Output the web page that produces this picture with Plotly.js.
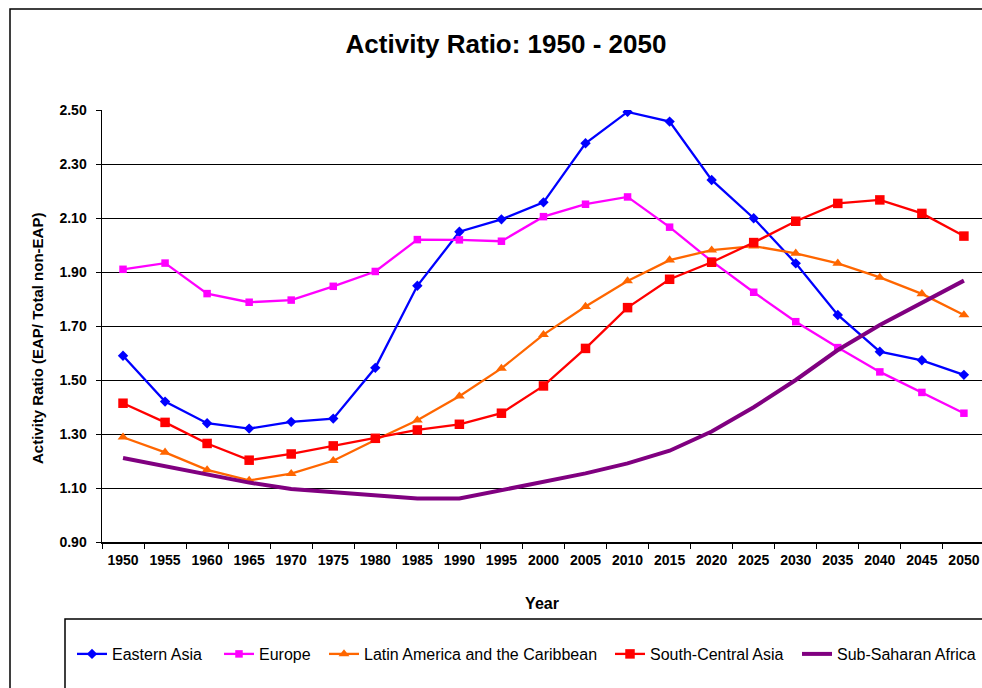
<!DOCTYPE html>
<html>
<head>
<meta charset="utf-8">
<script src="https://cdn.plot.ly/plotly-3.0.1.min.js"></script>
<style>
  html, body { margin: 0; padding: 0; background: #fff; overflow: hidden; }
  #chart { width: 982px; height: 688px; }
</style>
</head>
<body>
<div id="chart"></div>
<script>
const years = ["1950","1955","1960","1965","1970","1975","1980","1985","1990","1995","2000","2005","2010","2015","2020","2025","2030","2035","2040","2045","2050"];

const easternAsia = [1.59,1.42,1.34,1.32,1.345,1.357,1.545,1.849,2.049,2.095,2.158,2.377,2.493,2.457,2.241,2.099,1.932,1.741,1.605,1.573,1.519];
const europe = [1.910,1.933,1.820,1.788,1.796,1.847,1.902,2.020,2.019,2.014,2.105,2.151,2.178,2.066,1.940,1.825,1.716,1.620,1.530,1.454,1.377];
const latinAmerica = [1.288,1.232,1.167,1.128,1.153,1.201,1.278,1.351,1.440,1.543,1.668,1.772,1.867,1.944,1.981,1.996,1.969,1.932,1.880,1.819,1.741];
const southCentralAsia = [1.414,1.343,1.265,1.203,1.226,1.256,1.284,1.315,1.336,1.377,1.478,1.617,1.768,1.873,1.936,2.009,2.088,2.154,2.167,2.117,2.033];
const subSaharanAfrica = [1.211,1.181,1.152,1.120,1.096,1.084,1.072,1.061,1.061,1.093,1.122,1.154,1.191,1.238,1.309,1.399,1.500,1.611,1.704,1.788,1.868];

const seriesNames = ["Eastern Asia","Europe","Latin America and the Caribbean","South-Central Asia","Sub-Saharan Africa"];

const W = 982, H = 688, L = 102, R = 0, T = 110, B = 146;
const PW = W - L - R, PH = H - T - B;
const px = x => (x - L) / PW;
const py = y => (H - B - y) / PH;

const font = "Liberation Sans, Arial, sans-serif";

const traces = [
  {x: years, y: easternAsia, name: seriesNames[0], legend: "legend",
   mode: "lines+markers", line: {color: "#0000FF", width: 2.3},
   marker: {symbol: "diamond", size: 8, color: "#0000FF"}},
  {x: years, y: europe, name: seriesNames[1], legend: "legend2",
   mode: "lines+markers", line: {color: "#FF00FF", width: 2.3},
   marker: {symbol: "square", size: 7.5, color: "#FF00FF"}},
  {x: years, y: latinAmerica, name: seriesNames[2], legend: "legend3",
   mode: "lines+markers", line: {color: "#FF6600", width: 2.3},
   marker: {symbol: "triangle-up", size: 9.5, color: "#FF6600"}},
  {x: years, y: southCentralAsia, name: seriesNames[3], legend: "legend4",
   mode: "lines+markers", line: {color: "#FF0000", width: 2.3},
   marker: {symbol: "square", size: 9.5, color: "#FF0000"}},
  {x: years, y: subSaharanAfrica, name: seriesNames[4], legend: "legend5",
   mode: "lines", line: {color: "#800080", width: 4}}
];

const textStarts = [112, 259, 364, 650, 838];
const legY = py(654);
function leg(i) {
  return {x: px(textStarts[i] - 40), y: legY, xanchor: "left", yanchor: "middle",
          orientation: "h", bgcolor: "rgba(0,0,0,0)", borderwidth: 0,
          font: {family: font, size: 16, color: "#000"}, itemwidth: 30};
}
const leg5 = Object.assign(leg(4), {x: px(981), xanchor: "right"});

const layout = {
  width: W, height: H,
  margin: {l: L, r: R, t: T, b: B, pad: 0, autoexpand: false},
  paper_bgcolor: "#fff", plot_bgcolor: "#fff",
  showlegend: true,
  title: {text: "<b>Activity Ratio: 1950 - 2050</b>", x: 506 / W, xref: "container",
          y: 1 - 44 / H, yref: "container", xanchor: "center", yanchor: "middle",
          font: {family: font, size: 26, color: "#000"}},
  xaxis: {type: "category", range: [-0.5, 20.43], showgrid: false, automargin: false,
          tickson: "boundaries", ticks: "outside", ticklen: 5, tickcolor: "#000", tickwidth: 1,
          showline: true, linecolor: "#000", linewidth: 1.5, zeroline: false,
          tickfont: {family: font, size: 14, color: "#000", weight: "bold"},
          ticklabelstandoff: 5,
          title: {text: "<b>Year</b>", standoff: 30, font: {family: font, size: 16, color: "#000"}}},
  yaxis: {range: [0.9, 2.5], dtick: 0.2, tick0: 0.9, tickformat: ".2f", automargin: false,
          showgrid: true, gridcolor: "#000", gridwidth: 1,
          ticks: "outside", ticklen: 5, tickcolor: "#000", tickwidth: 1,
          showline: true, linecolor: "#000", linewidth: 1.5, zeroline: false,
          tickfont: {family: font, size: 14, color: "#000", weight: "bold"},
          ticklabelstandoff: 6},
  annotations: [
    {text: "<b>Activity Ratio (EAP/ Total non-EAP)</b>", xref: "paper", yref: "paper",
     x: px(37), y: py(339), xanchor: "center", yanchor: "middle", textangle: -90,
     showarrow: false, font: {family: font, size: 15, color: "#000"}}
  ],
  legend: leg(0), legend2: leg(1), legend3: leg(2), legend4: leg(3), legend5: leg5,
  shapes: [
    {type: "path", xref: "paper", yref: "paper",
     path: "M" + px(65) + "," + py(689) + " L" + px(65) + "," + py(619) + " L" + px(983) + "," + py(619),
     line: {color: "#000", width: 1.5}},
    {type: "path", xref: "paper", yref: "paper",
     path: "M" + px(10) + "," + py(689) + " L" + px(10) + "," + py(9) + " L" + px(983) + "," + py(9),
     line: {color: "#000", width: 1.5}}
  ]
};

Plotly.newPlot("chart", traces, layout, {displayModeBar: false, staticPlot: true});
</script>
</body>
</html>
